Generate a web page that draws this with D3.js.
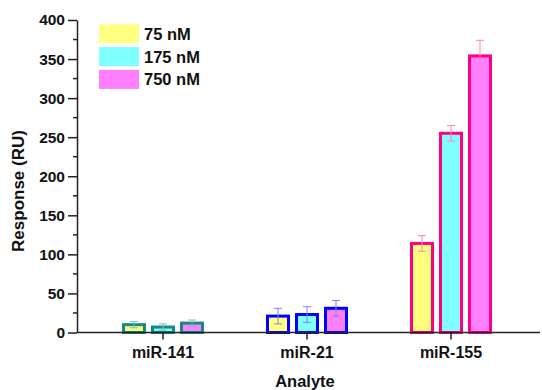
<!DOCTYPE html>
<html>
<head>
<meta charset="utf-8">
<script src="https://cdn.jsdelivr.net/npm/d3@7/dist/d3.min.js"></script>
<style>
  html, body { margin: 0; padding: 0; background: #fff; }
  svg { display: block; }
  text { font-family: Arial, "Liberation Sans", Helvetica, sans-serif; font-weight: bold; fill: #111; }
</style>
</head>
<body>
<svg id="chart" width="542" height="390"></svg>
<script>
// Categories, series and measurements
const analytes = ["miR-141", "miR-21", "miR-155"];
const concentrations = ["75 nM", "175 nM", "750 nM"];
const response75 = [10, 21, 114];
const response175 = [7, 23, 255];
const response750 = [12, 31, 354];
const error75 = [4, 10, 10];
const error175 = [4, 10, 10];
const error750 = [4, 10, 20];
const yTicks = [0, 50, 100, 150, 200, 250, 300, 350, 400];

// Colours: fill per concentration, outline per analyte
const fillColors = ["#ffff80", "#80ffff", "#ff80ff"];
const strokeColors = ["#138a84", "#0000ff", "#ff0080"];
const errorColors = ["#6ec1bd", "#8080ff", "#ff80c0"];

const values = [response75, response175, response750];
const errors = [error75, error175, error750];

const svg = d3.select("#chart");
const plotLeft = 77, plotRight = 540, plotTop = 20, plotBottom = 332.5;

const y = d3.scaleLinear().domain([0, 400]).range([plotBottom, plotTop]);
const x = d3.scaleBand().domain(analytes).range([91, 523]);
const xs = d3.scaleBand().domain(concentrations).range([-39.5, 39.5]).paddingInner(8 / 29).paddingOuter(0);

// Bars
const bars = [];
analytes.forEach((a, i) => {
  concentrations.forEach((c, j) => {
    bars.push({ a, i, c, j, v: values[j][i], e: errors[j][i] });
  });
});

const g = svg.append("g");
g.selectAll("rect.bar").data(bars).enter().append("rect")
  .attr("class", "bar")
  .attr("x", d => x(d.a) + x.bandwidth() / 2 + xs(d.c))
  .attr("y", d => y(d.v))
  .attr("width", xs.bandwidth())
  .attr("height", d => y(0) - y(d.v))
  .attr("fill", d => fillColors[d.j])
  .attr("stroke", d => strokeColors[d.i])
  .attr("stroke-width", 3);

// Error bars
const eb = g.selectAll("g.err").data(bars).enter().append("g")
  .attr("class", "err")
  .attr("stroke", d => errorColors[d.i])
  .attr("stroke-width", 1);
const cx = d => x(d.a) + x.bandwidth() / 2 + xs(d.c) + xs.bandwidth() / 2;
eb.append("line").attr("x1", cx).attr("x2", cx)
  .attr("y1", d => y(d.v + d.e)).attr("y2", d => y(Math.max(0, d.v - d.e)));
eb.append("line").attr("x1", d => cx(d) - 4).attr("x2", d => cx(d) + 4)
  .attr("y1", d => y(d.v + d.e)).attr("y2", d => y(d.v + d.e));
eb.append("line").attr("x1", d => cx(d) - 4).attr("x2", d => cx(d) + 4)
  .attr("y1", d => y(Math.max(0, d.v - d.e))).attr("y2", d => y(Math.max(0, d.v - d.e)));

// Y axis: major ticks with labels, minor ticks between
const yAxis = d3.axisLeft(y).tickValues(yTicks).tickSize(9).tickSizeOuter(0).tickPadding(3);
const ya = svg.append("g").attr("transform", `translate(${plotLeft},0)`).call(yAxis);
ya.select(".domain").attr("stroke", "#222").attr("stroke-width", 1.5);
ya.selectAll(".tick line").attr("stroke", "#222").attr("stroke-width", 1.5);
ya.selectAll(".tick text").style("font-size", "15.5px").attr("fill", "#111");

const minor = yTicks.slice(0, -1).map(t => t + 25);
svg.append("g").selectAll("line").data(minor).enter().append("line")
  .attr("x1", plotLeft - 4).attr("x2", plotLeft)
  .attr("y1", d => y(d)).attr("y2", d => y(d))
  .attr("stroke", "#222").attr("stroke-width", 1.5);

// X axis
svg.append("line").attr("x1", plotLeft).attr("x2", plotRight)
  .attr("y1", plotBottom).attr("y2", plotBottom)
  .attr("stroke", "#222").attr("stroke-width", 1.5);
const xa = svg.append("g").selectAll("g").data(analytes).enter().append("g")
  .attr("transform", d => `translate(${x(d) + x.bandwidth() / 2},${plotBottom})`);
xa.append("line").attr("y1", 0).attr("y2", 7).attr("stroke", "#222").attr("stroke-width", 1.5);
xa.append("text").attr("y", 25).attr("text-anchor", "middle")
  .style("font-size", "16px").text(d => d);

// Axis titles
svg.append("text").attr("x", 305).attr("y", 387).attr("text-anchor", "middle")
  .style("font-size", "16.5px").text("Analyte");
svg.append("text").attr("transform", "translate(24,191) rotate(-90)")
  .attr("text-anchor", "middle").style("font-size", "17px").text("Response (RU)");

// Legend
const lg = svg.append("g").selectAll("g").data(concentrations).enter().append("g")
  .attr("transform", (d, i) => `translate(99,${24.3 + i * 22.8})`);
lg.append("rect").attr("width", 40).attr("height", 19)
  .attr("fill", (d, i) => fillColors[i]);
lg.append("text").attr("x", 45).attr("y", 15.5).style("font-size", "16.5px").text(d => d);
</script>
</body>
</html>
